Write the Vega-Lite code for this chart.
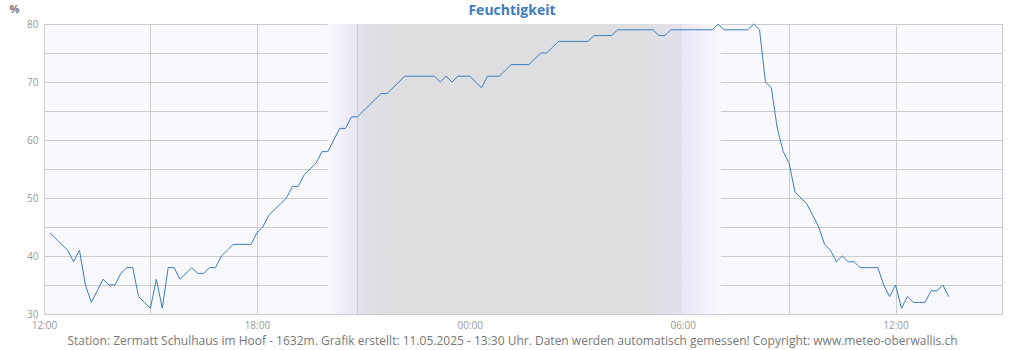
{
  "$schema": "https://vega.github.io/schema/vega-lite/v6.json",
  "width": 958,
  "height": 290,
  "autosize": "none",
  "padding": {"left": 44, "top": 24, "right": 22, "bottom": 36},
  "background": "#ffffff",
  "config": {
    "font": "Open Sans",
    "view": {"fill": "#f9f8fd", "stroke": "#cccccc"},
    "axis": {"zindex": 1, "gridColor": "#cccccc", "gridWidth": 1, "domain": false, "ticks": false, "tickSize": 0, "labelColor": "#999999", "labelFont": "Open Sans", "labelFontSize": 10}
  },
  "title": {"text": "Feuchtigkeit", "font": "Open Sans", "fontSize": 14, "fontWeight": "bold", "color": "#3c7cbc", "anchor": "middle", "frame": "group", "offset": 0, "dy": 15, "dx": -11},
  "datasets": {
    "hum": [
      {"t":"2025-05-10T12:10:00","v":44},{"t":"2025-05-10T12:20:00","v":43},{"t":"2025-05-10T12:30:00","v":42},{"t":"2025-05-10T12:40:00","v":41},{"t":"2025-05-10T12:50:00","v":39},
      {"t":"2025-05-10T13:00:00","v":41},{"t":"2025-05-10T13:10:00","v":35},{"t":"2025-05-10T13:20:00","v":32},{"t":"2025-05-10T13:30:00","v":34},{"t":"2025-05-10T13:40:00","v":36},{"t":"2025-05-10T13:50:00","v":35},
      {"t":"2025-05-10T14:00:00","v":35},{"t":"2025-05-10T14:10:00","v":37},{"t":"2025-05-10T14:20:00","v":38},{"t":"2025-05-10T14:30:00","v":38},{"t":"2025-05-10T14:40:00","v":33},{"t":"2025-05-10T14:50:00","v":32},
      {"t":"2025-05-10T15:00:00","v":31},{"t":"2025-05-10T15:10:00","v":36},{"t":"2025-05-10T15:20:00","v":31},{"t":"2025-05-10T15:30:00","v":38},{"t":"2025-05-10T15:40:00","v":38},{"t":"2025-05-10T15:50:00","v":36},
      {"t":"2025-05-10T16:00:00","v":37},{"t":"2025-05-10T16:10:00","v":38},{"t":"2025-05-10T16:20:00","v":37},{"t":"2025-05-10T16:30:00","v":37},{"t":"2025-05-10T16:40:00","v":38},{"t":"2025-05-10T16:50:00","v":38},
      {"t":"2025-05-10T17:00:00","v":40},{"t":"2025-05-10T17:10:00","v":41},{"t":"2025-05-10T17:20:00","v":42},{"t":"2025-05-10T17:30:00","v":42},{"t":"2025-05-10T17:40:00","v":42},{"t":"2025-05-10T17:50:00","v":42},
      {"t":"2025-05-10T18:00:00","v":44},{"t":"2025-05-10T18:10:00","v":45},{"t":"2025-05-10T18:20:00","v":47},{"t":"2025-05-10T18:30:00","v":48},{"t":"2025-05-10T18:40:00","v":49},{"t":"2025-05-10T18:50:00","v":50},
      {"t":"2025-05-10T19:00:00","v":52},{"t":"2025-05-10T19:10:00","v":52},{"t":"2025-05-10T19:20:00","v":54},{"t":"2025-05-10T19:30:00","v":55},{"t":"2025-05-10T19:40:00","v":56},{"t":"2025-05-10T19:50:00","v":58},
      {"t":"2025-05-10T20:00:00","v":58},{"t":"2025-05-10T20:10:00","v":60},{"t":"2025-05-10T20:20:00","v":62},{"t":"2025-05-10T20:30:00","v":62},{"t":"2025-05-10T20:40:00","v":64},{"t":"2025-05-10T20:50:00","v":64},
      {"t":"2025-05-10T21:00:00","v":65},{"t":"2025-05-10T21:10:00","v":66},{"t":"2025-05-10T21:20:00","v":67},{"t":"2025-05-10T21:30:00","v":68},{"t":"2025-05-10T21:40:00","v":68},{"t":"2025-05-10T21:50:00","v":69},
      {"t":"2025-05-10T22:00:00","v":70},{"t":"2025-05-10T22:10:00","v":71},{"t":"2025-05-10T22:20:00","v":71},{"t":"2025-05-10T22:30:00","v":71},{"t":"2025-05-10T22:40:00","v":71},{"t":"2025-05-10T22:50:00","v":71},
      {"t":"2025-05-10T23:00:00","v":71},{"t":"2025-05-10T23:10:00","v":70},{"t":"2025-05-10T23:20:00","v":71},{"t":"2025-05-10T23:30:00","v":70},{"t":"2025-05-10T23:40:00","v":71},{"t":"2025-05-10T23:50:00","v":71},
      {"t":"2025-05-11T00:00:00","v":71},{"t":"2025-05-11T00:10:00","v":70},{"t":"2025-05-11T00:20:00","v":69},{"t":"2025-05-11T00:30:00","v":71},{"t":"2025-05-11T00:40:00","v":71},{"t":"2025-05-11T00:50:00","v":71},
      {"t":"2025-05-11T01:00:00","v":72},{"t":"2025-05-11T01:10:00","v":73},{"t":"2025-05-11T01:20:00","v":73},{"t":"2025-05-11T01:30:00","v":73},{"t":"2025-05-11T01:40:00","v":73},{"t":"2025-05-11T01:50:00","v":74},
      {"t":"2025-05-11T02:00:00","v":75},{"t":"2025-05-11T02:10:00","v":75},{"t":"2025-05-11T02:20:00","v":76},{"t":"2025-05-11T02:30:00","v":77},{"t":"2025-05-11T02:40:00","v":77},{"t":"2025-05-11T02:50:00","v":77},
      {"t":"2025-05-11T03:00:00","v":77},{"t":"2025-05-11T03:10:00","v":77},{"t":"2025-05-11T03:20:00","v":77},{"t":"2025-05-11T03:30:00","v":78},{"t":"2025-05-11T03:40:00","v":78},{"t":"2025-05-11T03:50:00","v":78},
      {"t":"2025-05-11T04:00:00","v":78},{"t":"2025-05-11T04:10:00","v":79},{"t":"2025-05-11T04:20:00","v":79},{"t":"2025-05-11T04:30:00","v":79},{"t":"2025-05-11T04:40:00","v":79},{"t":"2025-05-11T04:50:00","v":79},
      {"t":"2025-05-11T05:00:00","v":79},{"t":"2025-05-11T05:10:00","v":79},{"t":"2025-05-11T05:20:00","v":78},{"t":"2025-05-11T05:30:00","v":78},{"t":"2025-05-11T05:40:00","v":79},{"t":"2025-05-11T05:50:00","v":79},
      {"t":"2025-05-11T06:00:00","v":79},{"t":"2025-05-11T06:10:00","v":79},{"t":"2025-05-11T06:20:00","v":79},{"t":"2025-05-11T06:30:00","v":79},{"t":"2025-05-11T06:40:00","v":79},{"t":"2025-05-11T06:50:00","v":79},
      {"t":"2025-05-11T07:00:00","v":80},{"t":"2025-05-11T07:10:00","v":79},{"t":"2025-05-11T07:20:00","v":79},{"t":"2025-05-11T07:30:00","v":79},{"t":"2025-05-11T07:40:00","v":79},{"t":"2025-05-11T07:50:00","v":79},
      {"t":"2025-05-11T08:00:00","v":80},{"t":"2025-05-11T08:10:00","v":79},{"t":"2025-05-11T08:20:00","v":70},{"t":"2025-05-11T08:30:00","v":69},{"t":"2025-05-11T08:40:00","v":62},{"t":"2025-05-11T08:50:00","v":58},
      {"t":"2025-05-11T09:00:00","v":56},{"t":"2025-05-11T09:10:00","v":51},{"t":"2025-05-11T09:20:00","v":50},{"t":"2025-05-11T09:30:00","v":49},{"t":"2025-05-11T09:40:00","v":47},{"t":"2025-05-11T09:50:00","v":45},
      {"t":"2025-05-11T10:00:00","v":42},{"t":"2025-05-11T10:10:00","v":41},{"t":"2025-05-11T10:20:00","v":39},{"t":"2025-05-11T10:30:00","v":40},{"t":"2025-05-11T10:40:00","v":39},{"t":"2025-05-11T10:50:00","v":39},
      {"t":"2025-05-11T11:00:00","v":38},{"t":"2025-05-11T11:10:00","v":38},{"t":"2025-05-11T11:20:00","v":38},{"t":"2025-05-11T11:30:00","v":38},{"t":"2025-05-11T11:40:00","v":35},{"t":"2025-05-11T11:50:00","v":33},
      {"t":"2025-05-11T12:00:00","v":35},{"t":"2025-05-11T12:10:00","v":31},{"t":"2025-05-11T12:20:00","v":33},{"t":"2025-05-11T12:30:00","v":32},{"t":"2025-05-11T12:40:00","v":32},{"t":"2025-05-11T12:50:00","v":32},
      {"t":"2025-05-11T13:00:00","v":34},{"t":"2025-05-11T13:10:00","v":34},{"t":"2025-05-11T13:20:00","v":35},{"t":"2025-05-11T13:30:00","v":33}
    ]
  },
  "layer": [
    {
      "data": {"values": [{"start": "2025-05-10T20:00:00", "end": "2025-05-10T20:50:00"}]},
      "mark": {"type": "rect", "fill": {"gradient": "linear", "x1": 0, "x2": 1, "y1": 0, "y2": 0, "stops": [{"offset": 0, "color": "#f9f8fd"}, {"offset": 1, "color": "#e8e4f4"}]}},
      "encoding": {"x": {"field": "start", "type": "temporal"}, "x2": {"field": "end"}}
    },
    {
      "data": {"values": [{"start": "2025-05-10T20:50:00", "end": "2025-05-10T21:00:00"}]},
      "mark": {"type": "rect", "fill": "#e3e1ec"},
      "encoding": {"x": {"field": "start", "type": "temporal"}, "x2": {"field": "end"}}
    },
    {
      "data": {"values": [{"start": "2025-05-10T21:00:00", "end": "2025-05-11T04:50:00"}]},
      "mark": {"type": "rect", "fill": {"gradient": "linear", "x1": 0, "x2": 1, "y1": 0, "y2": 0, "stops": [{"offset": 0, "color": "#e1e0e9"}, {"offset": 0.1, "color": "#dedde0"}, {"offset": 1, "color": "#dedde0"}]}},
      "encoding": {"x": {"field": "start", "type": "temporal"}, "x2": {"field": "end"}}
    },
    {
      "data": {"values": [{"start": "2025-05-11T04:50:00", "end": "2025-05-11T06:00:00"}]},
      "mark": {"type": "rect", "fill": {"gradient": "linear", "x1": 0, "x2": 1, "y1": 0, "y2": 0, "stops": [{"offset": 0, "color": "#dedde0"}, {"offset": 1, "color": "#e4e1ef"}]}},
      "encoding": {"x": {"field": "start", "type": "temporal"}, "x2": {"field": "end"}}
    },
    {
      "data": {"values": [{"start": "2025-05-11T06:00:00", "end": "2025-05-11T07:05:00"}]},
      "mark": {"type": "rect", "fill": {"gradient": "linear", "x1": 0, "x2": 1, "y1": 0, "y2": 0, "stops": [{"offset": 0, "color": "#ebe6f8"}, {"offset": 1, "color": "#f9f8fd"}]}},
      "encoding": {"x": {"field": "start", "type": "temporal"}, "x2": {"field": "end"}}
    },
    {
      "data": {"values": [{"t": "2025-05-10T20:50:00"}]},
      "mark": {"type": "rule", "color": "#cccccc", "strokeWidth": 1},
      "encoding": {"x": {"field": "t", "type": "temporal"}}
    },
    {
      "data": {"name": "hum"},
      "mark": {"type": "line", "color": "#3a7dbf", "strokeWidth": 1, "interpolate": "linear"},
      "encoding": {
        "x": {
          "field": "t", "type": "temporal",
          "scale": {"domain": [{"year": 2025, "month": 5, "date": 10, "hours": 12}, {"year": 2025, "month": 5, "date": 11, "hours": 15}]},
          "axis": {
            "values": [
              {"year": 2025, "month": 5, "date": 10, "hours": 12},
              {"year": 2025, "month": 5, "date": 10, "hours": 15},
              {"year": 2025, "month": 5, "date": 10, "hours": 18},
              {"year": 2025, "month": 5, "date": 10, "hours": 21},
              {"year": 2025, "month": 5, "date": 11, "hours": 0},
              {"year": 2025, "month": 5, "date": 11, "hours": 3},
              {"year": 2025, "month": 5, "date": 11, "hours": 6},
              {"year": 2025, "month": 5, "date": 11, "hours": 9},
              {"year": 2025, "month": 5, "date": 11, "hours": 12},
              {"year": 2025, "month": 5, "date": 11, "hours": 15}
            ],
            "labelExpr": "hours(datum.value) % 6 == 0 && datum.value < datetime(2025, 4, 11, 14) ? timeFormat(datum.value, '%H:%M') : ''",
            "labelPadding": 6,
            "labelFlush": false,
            "labelOverlap": false,
            "title": "Station: Zermatt Schulhaus im Hoof - 1632m. Grafik erstellt: 11.05.2025 - 13:30 Uhr. Daten werden automatisch gemessen! Copyright: www.meteo-oberwallis.ch",
            "titleFont": "Open Sans",
            "titleFontSize": 12,
            "titleFontWeight": "normal",
            "titleColor": "#777777",
            "titleX": 468,
            "titleY": 26,
            "titleAnchor": null,
            "titleAlign": "center",
            "titleBaseline": "middle"
          }
        },
        "y": {
          "field": "v", "type": "quantitative",
          "scale": {"domain": [30, 80], "nice": false, "zero": false},
          "axis": {
            "values": [30, 35, 40, 45, 50, 55, 60, 65, 70, 75, 80],
            "labelExpr": "datum.value % 10 == 0 ? datum.value : ''",
            "labelPadding": 6,
            "title": "%",
            "titleAngle": 0,
            "titleFont": "Open Sans",
            "titleFontSize": 11,
            "titleFontWeight": "bold",
            "titleColor": "#777777",
            "titleX": -35,
            "titleY": -15,
            "titleAlign": "left",
            "titleBaseline": "middle"
          }
        }
      }
    }
  ]
}
